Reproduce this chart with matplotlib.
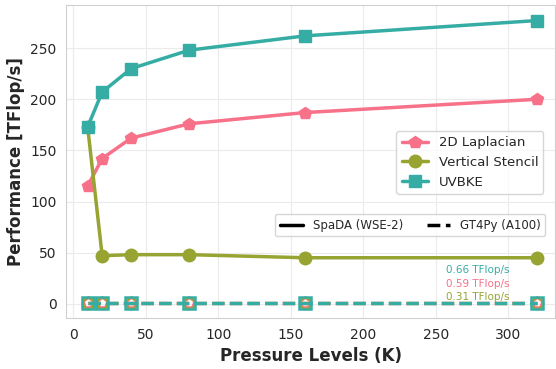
import matplotlib
matplotlib.use("Agg")
import matplotlib.pyplot as plt
from matplotlib.lines import Line2D
import seaborn as sns

# data
levels = [10, 20, 40, 80, 160, 320]
lap_spada = [115, 142, 162, 176, 187, 200]
vert_spada = [173, 47, 48, 48, 45, 45]
uvbke_spada = [173, 207, 230, 248, 262, 277]
lap_gt4py = [0.59] * 6
vert_gt4py = [0.31] * 6
uvbke_gt4py = [0.66] * 6

names = ["2D Laplacian", "Vertical Stencil", "UVBKE"]
markers = ["p", "o", "s"]
gpu_labels = ["0.59 TFlop/s", "0.31 TFlop/s", "0.66 TFlop/s"]

sns.set_style("whitegrid")
colors = sns.color_palette("husl", 4)[:3]

fig, ax = plt.subplots(figsize=(5.56, 3.69), dpi=100)
fig.subplots_adjust(left=0.119, right=0.998, top=0.986, bottom=0.138)

spada = [lap_spada, vert_spada, uvbke_spada]
gpu = [lap_gt4py, vert_gt4py, uvbke_gt4py]
handles = []
for name, m, c, ys in zip(names, markers, colors, spada):
    h, = ax.plot(levels, ys, marker=m, color=c, lw=2.5, ms=9, label=name)
    handles.append(h)
for m, c, ys in zip(markers, colors, gpu):
    ax.plot(levels, ys, marker=m, color=c, lw=2.4, ls="--", ms=8,
            markerfacecolor="none", markeredgewidth=1.8)

# GPU value annotations
ax.text(301, 33, gpu_labels[2], color=colors[2], fontsize=7.5, ha="right", va="center")
ax.text(301, 19.5, gpu_labels[0], color=colors[0], fontsize=7.5, ha="right", va="center")
ax.text(301, 6.5, gpu_labels[1], color=colors[1], fontsize=7.5, ha="right", va="center")

ax.set_xlim(-4.8, 332)
ax.set_ylim(-14, 292)
ax.set_xlabel("Pressure Levels (K)", fontsize=12, fontweight="bold")
ax.set_ylabel("Performance [TFlop/s]", fontsize=12, fontweight="bold")
ax.tick_params(labelsize=10)
ax.grid(True, color="#ebebeb", lw=0.8)
for s in ax.spines.values():
    s.set_color("#d0d0d0")

leg1 = ax.legend(handles=handles, loc="center right", bbox_to_anchor=(0.99, 0.497),
                 fontsize=9.5)
ax.add_artist(leg1)
style_handles = [Line2D([0], [0], color="black", lw=2.5, ls="-"),
                 Line2D([0], [0], color="black", lw=2.5, ls="--")]
ax.legend(style_handles, ["SpaDA (WSE-2)", "GT4Py (A100)"], ncol=2,
          loc="center right", bbox_to_anchor=(0.992, 0.297), fontsize=8.5)

fig.savefig("out.png", dpi=100)
